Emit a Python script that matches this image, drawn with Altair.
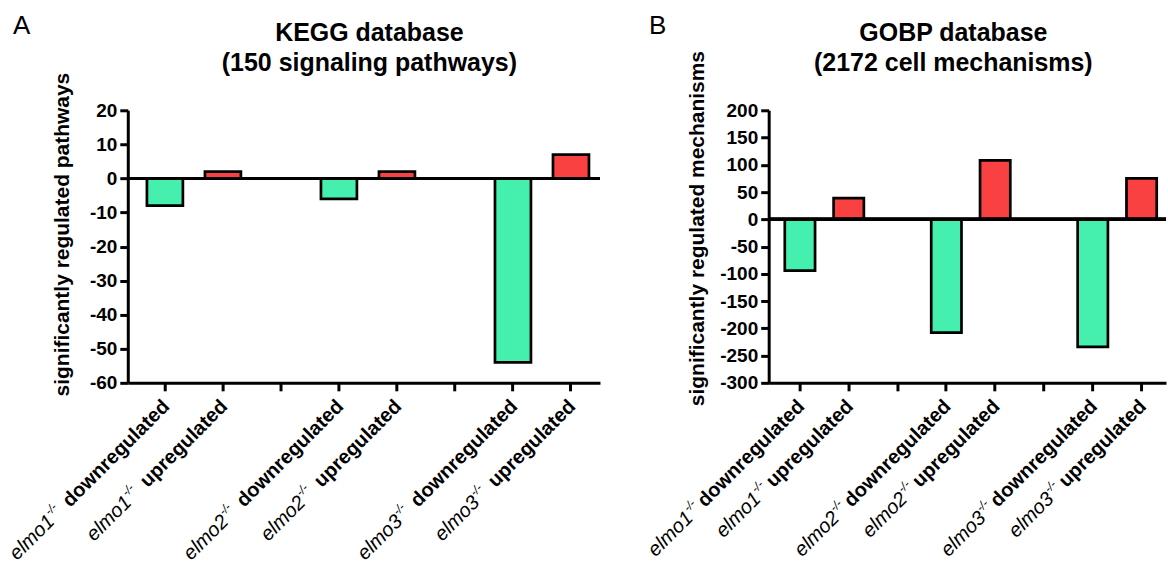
import altair as alt
import pandas as pd

# ---- data ----
genotypes = ["elmo1", "elmo2", "elmo3"]
kegg_down = [-8, -6, -54]
kegg_up = [2, 2, 7]
gobp_down = [-94, -208, -234]
gobp_up = [39, 108, 75]

slots = ["elmo1_down", "elmo1_up", "gap1", "elmo2_down", "elmo2_up", "gap2",
         "elmo3_down", "elmo3_up"]
kegg_ticks = list(range(-60, 21, 10))
gobp_ticks = list(range(-300, 201, 50))

FONT = "Liberation Sans"
GREEN = "#45F0AE"
RED = "#FA4141"
H = 273


def make_df(down, up):
    rows = []
    for g, d, u in zip(genotypes, down, up):
        rows.append({"slot": g + "_down", "gene": g, "dir": "down",
                     "word": "downregulated", "sup": "-/-", "value": d, "zero": 0})
        rows.append({"slot": g + "_up", "gene": g, "dir": "up",
                     "word": "upregulated", "sup": "-/-", "value": u, "zero": 0})
    return pd.DataFrame(rows)


def panel(df, width, title_lines, title_x, ytitle, ydomain, yvals, ytp, ytitle_y,
          letter, letter_x, gap, anchor=False):
    xenc = alt.X("slot:N",
                 scale=alt.Scale(domain=slots, paddingInner=0, paddingOuter=0.07, align=1),
                 axis=alt.Axis(title=None, labels=False, ticks=True, tickSize=8,
                               tickWidth=3, tickColor="black", domainWidth=3,
                               domainColor="black", grid=False))
    yaxis = alt.Axis(values=yvals, title=ytitle, titleFont=FONT,
                     titleFontSize=21, titleFontWeight="bold",
                     titleColor="black", titlePadding=ytp, titleY=ytitle_y,
                     labelFont=FONT, labelFontSize=19,
                     labelFontWeight="bold", labelColor="black",
                     labelExpr="'' + datum.value", labelOverlap=False,
                     labelPadding=3, tickSize=8, tickWidth=3,
                     tickColor="black", domainWidth=3,
                     domainColor="black", grid=False)
    yscale = alt.Scale(domain=ydomain, nice=False)
    base = alt.Chart(df)
    bars = base.mark_bar(stroke="black", strokeWidth=2.7,
                         width=alt.RelativeBandSize(0.62)).encode(
        x=xenc, y=alt.Y("value:Q", scale=yscale, axis=yaxis), y2=alt.Y2("zero:Q"),
        color=alt.Color("dir:N", scale=alt.Scale(domain=["down", "up"], range=[GREEN, RED]),
                        legend=None))
    zero = base.mark_rule(color="black", strokeWidth=3).encode(
        y=alt.Y("zero:Q", scale=yscale, axis=yaxis))

    ly = H + 22
    bold = base.mark_text(font=FONT, fontSize=20, fontWeight="bold", angle=315,
                          align="right", baseline="middle", dx=2,
                          color="black").encode(x=xenc, y=alt.value(ly), text="word:N")
    layers = [bars, zero, bold]
    for d, w in (("down", 142), ("up", 115)):
        sub = base.transform_filter(alt.datum.dir == d)
        sup = sub.mark_text(font=FONT, fontSize=12, fontStyle="italic", angle=315,
                            align="right", baseline="middle", dx=2 - (w + gap), dy=-7,
                            color="black").encode(x=xenc, y=alt.value(ly), text="sup:N")
        ital = sub.mark_text(font=FONT, fontSize=20, fontStyle="italic", angle=315,
                             align="right", baseline="middle", dx=2 - (w + gap + 12),
                             color="black").encode(x=xenc, y=alt.value(ly), text="gene:N")
        layers += [sup, ital]
    tdf = pd.DataFrame({"t": [letter]})
    let = alt.Chart(tdf).mark_text(
        font=FONT, fontSize=26, align="left", baseline="alphabetic",
        color="black").encode(x=alt.value(letter_x), y=alt.value(-76), text="t:N")
    layers.append(let)
    for i, line in enumerate(title_lines):
        ldf = pd.DataFrame({"t": [line]})
        layers.append(alt.Chart(ldf).mark_text(
            font=FONT, fontSize=25, fontWeight="bold", align="center",
            baseline="alphabetic", color="black").encode(
            x=alt.value(title_x), y=alt.value(-69 + 30 * i), text="t:N"))
    if anchor:
        anc = alt.Chart(pd.DataFrame({"a": [0]})).mark_rule(
            opacity=0, strokeWidth=0).encode(x=alt.value(-128), y=alt.value(-110),
                                             y2=alt.value(-109))
        layers.append(anc)
    return alt.layer(*layers).properties(width=width, height=H)


kegg = make_df(kegg_down, kegg_up)
gobp = make_df(gobp_down, gobp_up)

pa = panel(kegg, 473, ["KEGG database", "(150 signaling pathways)"], 242,
           "significantly regulated pathways", [-60, 20], kegg_ticks, 17, 124,
           "A", -115, 9, anchor=True)
pb = panel(gobp, 398, ["GOBP database", "(2172 cell mechanisms)"], 185,
           "significantly regulated mechanisms", [-300, 200], gobp_ticks, 12, 118,
           "B", -120, 4)

chart = alt.hconcat(pa, pb, spacing=169, bounds="flush").properties(
    padding={"left": 0, "top": 0, "right": 0, "bottom": 0},
    background="white"
).configure_view(strokeWidth=0)

chart.save("out.html", embed_options={"renderer": "svg", "actions": False})
